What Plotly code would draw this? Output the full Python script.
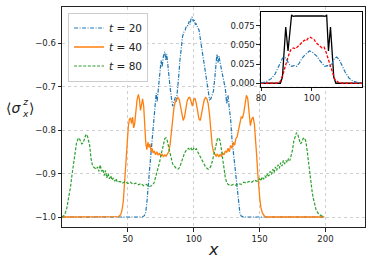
import plotly.graph_objects as go

# ---------------- main panel data ----------------
x20 = [0, 61, 62.5, 63.5, 64.5, 65.5, 66.5, 67.5, 68.5, 69.5, 70.5, 71.5, 72.2, 73, 73.8, 74.5, 75.2, 76, 77, 78,
       78.8, 79.5, 80.3, 81.2, 82, 83, 84, 85, 86, 86.8, 87.5, 88.5, 89.5, 90.5, 91.5, 92.5, 93.5, 94.5, 95.5, 96.5,
       97.2, 98, 98.8, 99.6, 100.4, 101.2, 102, 103, 104, 105, 106, 107, 108, 109, 110, 111, 112, 113, 114, 115,
       116, 116.8, 117.6, 118.4, 119.2, 120, 121, 122, 123, 124, 125, 126, 127, 128, 129, 130, 131, 132, 133, 134,
       135, 136, 138, 199]
s20 = [-1.0, -1.0, -0.997, -0.99, -0.965, -0.935, -0.89, -0.855, -0.82, -0.79, -0.745, -0.715, -0.735, -0.71, -0.69,
       -0.655, -0.64, -0.655, -0.63, -0.62, -0.64, -0.625, -0.655, -0.685, -0.70, -0.725, -0.745, -0.735, -0.725,
       -0.735, -0.715, -0.68, -0.64, -0.605, -0.585, -0.575, -0.57, -0.56, -0.56, -0.55, -0.557, -0.543, -0.54,
       -0.55, -0.545, -0.557, -0.556, -0.565, -0.57, -0.59, -0.61, -0.635, -0.66, -0.68, -0.70, -0.72, -0.73,
       -0.728, -0.72, -0.71, -0.68, -0.65, -0.625, -0.645, -0.63, -0.645, -0.66, -0.675, -0.69, -0.705, -0.74,
       -0.72, -0.75, -0.775, -0.82, -0.85, -0.87, -0.9, -0.94, -0.97, -0.99, -0.998, -1.0, -1.0]

x40 = [0, 40, 43, 44.5, 45.5, 46.5, 47.3, 48, 48.8, 49.6, 50.4, 51.2, 52, 52.8, 53.6, 54.4, 55.2, 56, 57, 58, 58.8,
       59.6, 60.4, 61.2, 62, 62.8, 63.6, 64.4, 65.2, 66, 66.8, 67.6, 68.4, 69.2, 70, 71, 72, 73, 74, 75, 76, 77, 78,
       79, 80, 81, 82, 83, 84, 85, 86, 87, 88, 89, 90, 91, 92, 93, 94, 95, 96, 97, 98, 99, 100, 101, 102, 103, 104,
       105, 106, 107, 108, 109, 110, 111, 112, 113, 114, 115, 116, 117, 118, 119, 120, 121, 122, 123, 124, 125,
       126, 127, 128, 129, 130, 131, 132, 133, 134, 135, 136, 137, 138, 139, 140, 141, 142, 143, 144, 145, 146,
       147, 147.8, 148.6, 149.4, 150.2, 151, 152, 153.5, 155, 199]
s40 = [-1.0, -1.0, -0.999, -0.995, -0.985, -0.965, -0.93, -0.89, -0.85, -0.815, -0.79, -0.775, -0.772, -0.785,
       -0.77, -0.795, -0.785, -0.76, -0.73, -0.718, -0.73, -0.755, -0.74, -0.728, -0.745, -0.79, -0.83, -0.845,
       -0.828, -0.84, -0.832, -0.85, -0.842, -0.853, -0.848, -0.857, -0.85, -0.858, -0.853, -0.86, -0.855, -0.862,
       -0.857, -0.86, -0.855, -0.85, -0.835, -0.8, -0.77, -0.748, -0.735, -0.73, -0.725, -0.73, -0.745, -0.765,
       -0.778, -0.77, -0.75, -0.733, -0.726, -0.725, -0.735, -0.745, -0.73, -0.727, -0.74, -0.76, -0.775, -0.778,
       -0.765, -0.745, -0.73, -0.725, -0.728, -0.74, -0.765, -0.80, -0.835, -0.85, -0.855, -0.86, -0.855, -0.862,
       -0.856, -0.86, -0.853, -0.857, -0.848, -0.852, -0.842, -0.85, -0.835, -0.842, -0.828, -0.835, -0.82,
       -0.815, -0.8, -0.78, -0.77, -0.772, -0.76, -0.74, -0.72, -0.728, -0.755, -0.79, -0.775, -0.77, -0.785,
       -0.82, -0.86, -0.9, -0.935, -0.96, -0.978, -0.99, -0.997, -1.0, -1.0]

x80 = [0, 2, 3.5, 5, 6.5, 7.5, 8.5, 9.8, 11, 12.2, 13, 14, 15, 16, 17, 18, 19, 20, 21, 22, 23, 24, 25, 26, 27, 28,
       29, 30, 31, 32, 33, 34, 35, 36, 37, 38, 39, 40, 41, 42, 44, 46, 48, 50, 52, 54, 56, 58, 60, 62, 64, 66, 68,
       69, 70, 71, 72, 73, 74, 75, 76, 77, 78, 79, 80, 81, 82, 83, 84, 85, 86, 87, 88, 89, 90, 91, 92, 93, 94, 95,
       96, 97, 98, 99, 100, 101, 102, 103, 104, 105, 106, 107, 108, 109, 110, 111, 112, 113, 114, 115, 116, 117,
       118, 119, 120, 121, 122, 123, 124, 125, 126, 128, 130, 132, 134, 136, 138, 140, 142, 144, 146, 148, 150,
       151, 152, 153, 154, 155, 156, 157, 158, 159, 160, 161, 162, 163, 164, 165, 166, 167, 168, 169, 170, 171,
       172, 173, 174, 175, 176, 177, 178, 179, 180, 181, 182, 183, 184, 185, 186, 187, 188, 189, 190, 191, 192,
       193, 195, 197, 199]
s80 = [-1.0, -0.995, -0.982, -0.96, -0.93, -0.905, -0.88, -0.855, -0.83, -0.82, -0.818, -0.825, -0.832, -0.83,
       -0.82, -0.812, -0.81, -0.82, -0.835, -0.865, -0.88, -0.885, -0.888, -0.89, -0.885, -0.895, -0.88, -0.895,
       -0.89, -0.905, -0.893, -0.91, -0.9, -0.912, -0.905, -0.915, -0.91, -0.918, -0.912, -0.92, -0.918, -0.922,
       -0.918, -0.923, -0.92, -0.925, -0.922, -0.926, -0.923, -0.928, -0.925, -0.93, -0.928, -0.926, -0.92, -0.91,
       -0.9, -0.89, -0.875, -0.86, -0.845, -0.83, -0.82, -0.818, -0.825, -0.84, -0.855, -0.87, -0.878, -0.882,
       -0.886, -0.889, -0.89, -0.887, -0.88, -0.87, -0.86, -0.853, -0.848, -0.845, -0.842, -0.846, -0.842, -0.848,
       -0.842, -0.846, -0.843, -0.85, -0.856, -0.862, -0.87, -0.876, -0.881, -0.885, -0.888, -0.89, -0.888,
       -0.883, -0.873, -0.86, -0.845, -0.83, -0.82, -0.818, -0.825, -0.845, -0.87, -0.895, -0.91, -0.92, -0.925,
       -0.928, -0.925, -0.927, -0.923, -0.925, -0.92, -0.922, -0.918, -0.92, -0.915, -0.918, -0.912, -0.917,
       -0.908, -0.913, -0.905, -0.91, -0.9, -0.906, -0.895, -0.902, -0.89, -0.898, -0.885, -0.893, -0.88, -0.888,
       -0.875, -0.883, -0.87, -0.878, -0.87, -0.875, -0.865, -0.87, -0.86, -0.845, -0.825, -0.812, -0.806, -0.81,
       -0.825, -0.832, -0.828, -0.82, -0.818, -0.825, -0.845, -0.87, -0.9, -0.925, -0.945, -0.96, -0.975, -0.985,
       -0.994, -0.998, -1.0]

# ---------------- inset data ----------------
kx = [80, 87.6, 88.4, 89.2, 89.7, 90.6, 91.4, 92.0, 92.6, 93.4, 104.4, 105.2, 105.8, 106.5, 107.3, 107.9, 108.6,
      109.4, 120]
ky = [0, 0, 0.008, 0.045, 0.073, 0.042, 0.07, 0.089, 0.087, 0.0875, 0.0875, 0.087, 0.089, 0.042, 0.073, 0.045,
      0.008, 0, 0]

rx = [80, 86, 87.5, 88.7, 89.5, 90.2, 91, 91.8, 92.7, 93.6, 94.5, 95.3, 96.2, 97, 97.8, 98.6, 99.3, 100, 100.8,
      101.6, 102.4, 103.2, 104, 104.8, 105.6, 106.4, 107.2, 108, 109, 110.5, 112, 120]
ry = [0, 0, 0.002, 0.012, 0.022, 0.031, 0.038, 0.044, 0.046, 0.045, 0.048, 0.05, 0.053, 0.056, 0.055, 0.059,
      0.06, 0.058, 0.057, 0.053, 0.05, 0.048, 0.046, 0.047, 0.04, 0.032, 0.022, 0.013, 0.005, 0.001, 0, 0]

ix = [80, 82, 84, 85.5, 86.5, 87.5, 88.5, 89.3, 90, 91, 92, 93, 94, 95, 96, 97, 98, 99, 100, 101, 102, 103, 104,
      105, 106, 107, 108, 108.8, 109.7, 110.7, 111.7, 113, 114.5, 116, 118, 120]
iy = [0.0005, 0.002, 0.006, 0.012, 0.019, 0.027, 0.033, 0.034, 0.031, 0.025, 0.022, 0.023, 0.022, 0.026, 0.032,
      0.036, 0.039, 0.042, 0.041, 0.038, 0.035, 0.03, 0.026, 0.022, 0.023, 0.022, 0.026, 0.032, 0.034, 0.031,
      0.024, 0.015, 0.007, 0.003, 0.001, 0.0003]

main_xticks = [50, 100, 150, 200]
main_yticks = [-1.0, -0.9, -0.8, -0.7, -0.6]
inset_xticks = [80, 100]
inset_yticks = [0, 0.025, 0.05, 0.075]

BLUE, ORANGE, GREEN = "#1f77b4", "#ff7f0e", "#2ca02c"
DASHDOT = "4px,1.5px,1px,1.5px"
DASH = "3px,1.6px"

fig = go.Figure()
fig.add_trace(go.Scatter(x=x20, y=s20, mode="lines", name="<i>t</i> = 20",
                         line=dict(color=BLUE, width=1.2, dash=DASHDOT)))
fig.add_trace(go.Scatter(x=x40, y=s40, mode="lines", name="<i>t</i> = 40",
                         line=dict(color=ORANGE, width=1.3)))
fig.add_trace(go.Scatter(x=x80, y=s80, mode="lines", name="<i>t</i> = 80",
                         line=dict(color=GREEN, width=1.2, dash=DASH)))

fig.add_trace(go.Scatter(x=kx, y=ky, mode="lines", xaxis="x2", yaxis="y2", showlegend=False,
                         line=dict(color="black", width=1.3)))
fig.add_trace(go.Scatter(x=rx, y=ry, mode="lines", xaxis="x2", yaxis="y2", showlegend=False,
                         line=dict(color="red", width=1.3, dash=DASH)))
fig.add_trace(go.Scatter(x=ix, y=iy, mode="lines", xaxis="x2", yaxis="y2", showlegend=False,
                         line=dict(color=BLUE, width=1.2, dash=DASHDOT)))

axis_common = dict(showline=True, mirror=True, linecolor="#222", linewidth=1, ticks="outside", ticklen=3.5,
                   tickwidth=1, tickcolor="#222", zeroline=False, tickfont=dict(size=8.5, color="#222"))

fig.update_layout(
    width=374, height=267,
    margin=dict(l=62, r=9, t=7, b=40),
    paper_bgcolor="white", plot_bgcolor="white",
    font=dict(family="DejaVu Sans", size=8.5, color="#222"),
    xaxis=dict(domain=[0, 1], range=[0, 230], tickvals=main_xticks, showgrid=True, gridcolor="#cfcfcf",
               griddash="dot", gridwidth=0.8, **axis_common),
    yaxis=dict(domain=[0, 1], range=[-1.023, -0.517], tickvals=main_yticks, tickformat=".1f", showgrid=True,
               gridcolor="#cfcfcf", griddash="dot", gridwidth=0.8, **axis_common),
    xaxis2=dict(domain=[0.657, 0.991], anchor="y2", range=[80, 119.8], tickvals=inset_xticks, showgrid=False,
                **{**axis_common, "linecolor": "black", "linewidth": 1.3}),
    yaxis2=dict(domain=[0.638, 0.979], anchor="x2", range=[-0.0044, 0.0932], tickvals=inset_yticks,
                tickformat=".3f", showgrid=False, **{**axis_common, "linecolor": "black", "linewidth": 1.3}),
    legend=dict(x=0.02, y=0.975, xanchor="left", yanchor="top", bgcolor="rgba(255,255,255,0.85)",
                bordercolor="#cccccc", borderwidth=1, font=dict(size=10.5, color="#222"), itemwidth=30,
                tracegroupgap=0),
    showlegend=True,
)

def px_x(p):
    return (p - 62) / 303

def px_y(p):
    return (227 - p) / 220

# axis labels
fig.add_annotation(text="<i>x</i>", x=0.5, y=px_y(249), xref="paper", yref="paper", showarrow=False,
                   font=dict(size=16, color="#222"), xanchor="center", yanchor="middle")
fig.add_annotation(text="⟨<i>σ</i>", x=px_x(5), y=px_y(108), xref="paper", yref="paper", borderpad=0,
                   showarrow=False, font=dict(size=14, color="#222"), xanchor="left", yanchor="middle")
fig.add_annotation(text="<i>z</i><br><i>x</i>", x=px_x(21), y=px_y(108), xref="paper", yref="paper",
                   borderpad=0, align="center", showarrow=False, font=dict(size=9, color="#222"),
                   xanchor="left", yanchor="middle")
fig.add_annotation(text="⟩", x=px_x(28), y=px_y(108), xref="paper", yref="paper", borderpad=0,
                   showarrow=False, font=dict(size=14, color="#222"), xanchor="left", yanchor="middle")

fig.write_html("out.html", config={"displayModeBar": False},
               post_script="document.body.style.margin='0px';")
